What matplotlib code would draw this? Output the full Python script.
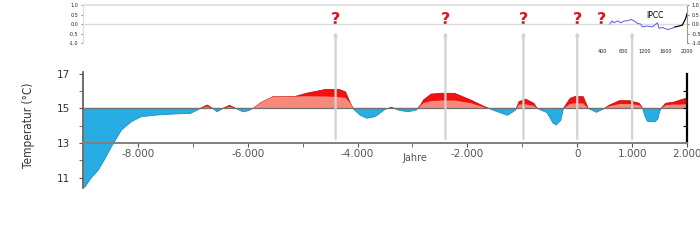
import numpy as np
import matplotlib
matplotlib.use("Agg")
from matplotlib import pyplot as plt

# main temperature curve (year, degC)
years = [-8970, -8850, -8720, -8600, -8480, -8300, -8120, -7940, -7640, -7300,
         -7040, -6920, -6860, -6740, -6640, -6560, -6450, -6330, -6220, -6090,
         -6000, -5900, -5750, -5540, -5150, -4940, -4580, -4340, -4220, -4130,
         -4070, -3950, -3830, -3680, -3500, -3380, -3260, -3080, -2930, -2850,
         -2800, -2660, -2450, -2230, -1940, -1690, -1630, -1450, -1270, -1120,
         -1060, -940, -790, -730, -550, -440, -380, -300, -250, -130, -40,
         110, 200, 350, 500, 590, 770, 950, 1130, 1190, 1240,
         1280, 1420, 1470, 1500, 1530, 1610, 1750, 1900, 2000]
temp = [10.45, 11.0, 11.45, 12.1, 12.8, 13.75, 14.23, 14.52, 14.62, 14.68,
        14.71, 14.9, 15.0, 15.19, 15.0, 14.8, 15.0, 15.17, 15.0, 14.8,
        14.85, 15.0, 15.35, 15.67, 15.67, 15.86, 16.09, 16.09, 15.95, 15.29,
        14.94, 14.6, 14.43, 14.52, 14.94, 15.06, 14.9, 14.8, 14.9, 15.2,
        15.48, 15.82, 15.87, 15.86, 15.48, 15.1, 15.02, 14.8, 14.6, 14.9,
        15.38, 15.53, 15.29, 15.0, 14.75, 14.15, 14.04, 14.3, 15.0, 15.57, 15.68,
        15.67, 15.0, 14.77, 15.0, 15.19, 15.44, 15.44, 15.29, 15.0, 14.5,
        14.25, 14.23, 14.4, 14.8, 15.0, 15.29, 15.35, 15.5, 15.6]
# lower (salmon) layer of the warm phases
warm_base = [15.0, 15.0, 15.0, 15.0, 15.0, 15.0, 15.0, 15.0, 15.0, 15.0,
             15.0, 15.0, 15.0, 15.1, 15.0, 15.0, 15.0, 15.08, 15.0, 15.0,
             15.0, 15.0, 15.35, 15.67, 15.67, 15.7, 15.68, 15.65, 15.6, 15.29,
             15.0, 15.0, 15.0, 15.0, 15.0, 15.03, 15.0, 15.0, 15.0, 15.15,
             15.3, 15.42, 15.45, 15.45, 15.3, 15.05, 15.0, 15.0, 15.0, 15.0,
             15.22, 15.23, 15.15, 15.0, 15.0, 15.0, 15.0, 15.0, 15.0, 15.25, 15.29,
             15.28, 15.0, 15.0, 15.0, 15.12, 15.25, 15.25, 15.18, 15.0, 15.0,
             15.0, 15.0, 15.0, 15.0, 15.0, 15.18, 15.22, 15.22, 15.25]

# IPCC inset (anomaly)
ipcc_years = [545, 583, 624, 688, 752, 814, 876, 940, 1002, 1064, 1128, 1158,
              1253, 1347, 1411, 1441, 1473, 1535, 1629, 1723, 1774]
ipcc_vals = [0.0, 0.17, 0.07, 0.17, 0.07, 0.17, 0.17, 0.24, 0.17, 0.04, 0.0,
             -0.14, -0.1, -0.14, 0.0, 0.07, -0.22, -0.17, -0.28, -0.22, -0.14]
recent_years = [1774, 1817, 1911, 1975, 2000]
recent_vals = [-0.14, -0.12, -0.05, 0.3, 0.55]

marker_years = [-4400, -2400, -980, 0, 1000]
question_years = [-4400, -2400, -980, 0, 440]

xtick_years = [-8000, -6000, -4000, -2000, 0, 1000, 2000]
xtick_labels = ['-8.000', '-6.000', '-4.000', '-2.000', '0', '1.000', '2.000']
xminor_years = [-7000, -5000, -3000, -1000]
inset_ticks = [400, 800, 1200, 1600, 2000]

BLUE = '#27ade3'
RED = '#f21010'
SALMON = '#f7897a'

fig = plt.figure(figsize=(7, 2.46), dpi=100)
ax = fig.add_axes([0.1186, 0.2346, 0.8629, 0.4734])

y = np.array(temp)
base = np.array(warm_base)
ax.fill_between(years, 15, y, where=y <= 15, interpolate=True,
                color=BLUE, lw=0.6, edgecolor='#1e8fc0')
ax.fill_between(years, 15, y, where=y >= 15, interpolate=True,
                color=RED, lw=0.6, edgecolor='#c81010')
ax.fill_between(years, 15, np.minimum(base, y), where=y >= 15, interpolate=True,
                color=SALMON, lw=0)
ax.axhline(15, color='#707070', lw=0.9, zorder=3)

ax.set_xlim(-9000, 2000)
ax.set_ylim(10.4, 17.1)

ax.spines['top'].set_visible(False)
ax.spines['left'].set_color('#555555')
ax.spines['left'].set_linewidth(1.2)
ax.spines['bottom'].set_position(('data', 13))
ax.spines['bottom'].set_color('#808080')
ax.spines['bottom'].set_linewidth(1.4)
ax.spines['right'].set_bounds(13, 17)
ax.spines['right'].set_color('black')
ax.spines['right'].set_linewidth(1.6)

ax.set_yticks([11, 13, 15, 17])
ax.set_yticks([12, 14, 16], minor=True)
ax.tick_params(axis='y', which='both', direction='out', length=3,
               color='#555555', labelsize=7.5, labelcolor='#333333', pad=6)
ax.set_xticks(xtick_years, xtick_labels)
ax.set_xticks(xminor_years, minor=True)
ax.tick_params(axis='x', which='both', direction='out', length=3,
               color='#555555', labelsize=7.5, labelcolor='#555555', pad=1)

# right axis ticks (inward)
axr = ax.twinx()
axr.set_ylim(ax.get_ylim())
axr.set_yticks([14, 15, 16])
axr.tick_params(axis='y', direction='in', length=3, labelright=False,
                color='black')
for s in axr.spines.values():
    s.set_visible(False)

ax.set_ylabel('Temperatur (°C)', fontsize=8.5, color='#333333',
              family='DejaVu Sans', fontstretch='condensed')
ax.yaxis.set_label_coords(-0.079, 0.54)
fig.text(415 / 700, 1 - 158 / 246, 'Jahre', fontsize=7, color='#555555',
         ha='center', va='center')

# IPCC inset
axi = fig.add_axes([0.1186, 0.824, 0.8629, 0.1557])
axi.plot(ipcc_years, ipcc_vals, color='#5a5af0', lw=0.7)
axi.plot(recent_years, recent_vals, color='black', lw=0.9)
axi.axhline(0, color='#dddddd', lw=1.0, zorder=0)
axi.set_xlim(-9390, 2000)
axi.set_ylim(-1, 1)
axi.set_yticks([1.0, 0.5, 0.0, -0.5, -1.0], ['1.0', '0.5', '0.0', '-0.5', '-1.0'])
axi.set_xticks(inset_ticks, [str(v) for v in inset_ticks])
axi.tick_params(axis='both', labelsize=3.5, length=1.5, pad=2,
                color='#888888', labelcolor='#222222')
axi.tick_params(axis='y', right=True, labelright=True)
axi.tick_params(axis='x', pad=4, length=0)
axi.patch.set_alpha(0)
axi.spines['bottom'].set_visible(False)
axi.spines['top'].set_color('#dddddd')
axi.spines['top'].set_linewidth(1.2)
axi.spines['left'].set_color('#dddddd')
axi.spines['right'].set_color('#999999')
axi.text(1400, 0.45, 'IPCC', fontsize=5.5, ha='center', va='center')

# gray marker lines with small arrowheads
for yr in marker_years:
    ax.annotate('', xy=(yr, 1 - 32 / 246), xytext=(yr, 1 - 139 / 246),
                xycoords=('data', 'figure fraction'),
                textcoords=('data', 'figure fraction'),
                annotation_clip=False,
                arrowprops=dict(arrowstyle='-|>', color='#d2d2d2', lw=1.6,
                                mutation_scale=3.5, shrinkA=0, shrinkB=0))
for yr in question_years:
    ax.annotate('?', xy=(yr, 1 - 20 / 246), xycoords=('data', 'figure fraction'),
                ha='center', va='center', fontsize=11.5, fontweight='bold',
                color='#e3121c', annotation_clip=False)

fig.savefig('out.png', dpi=100)
